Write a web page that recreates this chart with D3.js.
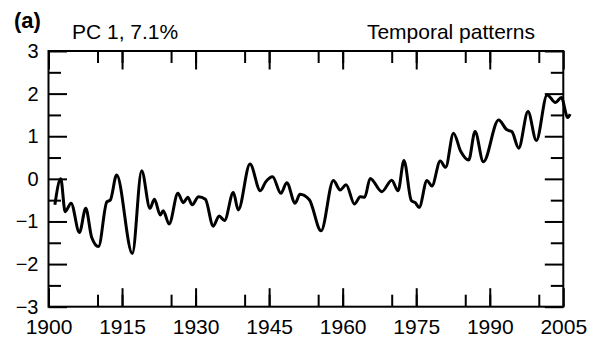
<!DOCTYPE html>
<html>
<head>
<meta charset="utf-8">
<style>
  body { margin: 0; background: #fff; }
  svg text { font-family: "Liberation Sans", Arial, Helvetica, sans-serif; fill: #000; }
  .axis .domain { display: none; }
  .axis .tick line { stroke: #000; stroke-width: 2px; }
</style>
</head>
<body>
<div class="chart"></div>
<script src="https://d3js.org/d3.v7.min.js"></script>
<script>
  // PC 1 时间序列（读图估计的转折点）
  const years = [1901.3, 1902.5, 1903.4, 1904.6, 1906.3, 1907.6, 1908.8, 1910.2, 1911.9, 1912.6,
    1913.9, 1917.1, 1919.0, 1920.7, 1921.6, 1922.8, 1923.4, 1924.6, 1926.4, 1927.5,
    1928.4, 1929.3, 1930.6, 1932.0, 1933.6, 1934.8, 1935.9, 1937.7, 1938.7, 1941.1,
    1943.2, 1944.3, 1945.7, 1947.4, 1948.6, 1950.3, 1951.3, 1953.2, 1955.6, 1958.1,
    1959.5, 1960.7, 1962.4, 1963.6, 1964.5, 1965.6, 1968.0, 1970.0, 1971.3, 1972.5,
    1974.0, 1974.8, 1975.6, 1977.2, 1978.2, 1979.9, 1981.0, 1982.6, 1984.1, 1985.7,
    1987.0, 1988.7, 1991.8, 1993.5, 1994.5, 1995.9, 1997.8, 1999.5, 2001.7, 2003.4,
    2004.6, 2005.9, 2006.4]
  const pc1 = [-0.61, 0.0, -0.77, -0.57, -1.26, -0.69, -1.37, -1.59, -0.54, -0.50,
    0.09, -1.75, 0.19, -0.69, -0.48, -0.85, -0.75, -1.06, -0.34, -0.56,
    -0.43, -0.61, -0.42, -0.48, -1.11, -0.87, -0.98, -0.32, -0.73, 0.35,
    -0.28, -0.07, 0.05, -0.34, -0.09, -0.57, -0.36, -0.49, -1.22, -0.04,
    -0.26, -0.14, -0.59, -0.42, -0.43, 0.01, -0.30, -0.03, -0.28, 0.43,
    -0.51, -0.56, -0.67, -0.04, -0.17, 0.42, 0.27, 1.07, 0.64, 0.44,
    1.11, 0.40, 1.38, 1.15, 1.11, 0.72, 1.58, 0.90, 1.97, 1.79,
    1.91, 1.44, 1.52]

  const xMinor = d3.range(1905, 2005, 5)
  const xMajor = d3.range(1900, 2006, 15)
  const yMinor = d3.range(-2.5, 3, 1)
  const yMajor = d3.range(-3, 4, 1)

  const svgWidth = 593, svgHeight = 353
  const plotLeft = 48.5, plotRight = 563.3, plotTop = 51, plotBottom = 306.7

  const svg = d3.select('.chart').append('svg')
    .attr('width', svgWidth)
    .attr('height', svgHeight)

  const x = d3.scaleLinear().domain([1900, 2005]).range([plotLeft, plotRight])
  const y = d3.scaleLinear().domain([-3, 3]).range([plotBottom, plotTop])

  // 下方、上方刻度（朝内）
  svg.append('g').attr('class', 'axis')
    .attr('transform', `translate(0, ${plotBottom})`)
    .call(d3.axisBottom(x).tickValues(xMinor.filter(d => d % 15 !== 0)).tickSize(-12).tickFormat(''))
  svg.append('g').attr('class', 'axis')
    .attr('transform', `translate(0, ${plotBottom})`)
    .call(d3.axisBottom(x).tickValues(xMajor).tickSize(-18.5).tickPadding(12).tickFormat(d3.format('d')))
    .selectAll('text').style('font-size', '21px')
  svg.append('g').attr('class', 'axis')
    .attr('transform', `translate(0, ${plotTop})`)
    .call(d3.axisTop(x).tickValues(xMinor.filter(d => d % 15 !== 0)).tickSize(-12).tickFormat(''))
  svg.append('g').attr('class', 'axis')
    .attr('transform', `translate(0, ${plotTop})`)
    .call(d3.axisTop(x).tickValues(xMajor).tickSize(-18.5).tickFormat(''))

  // 左、右刻度
  svg.append('g').attr('class', 'axis')
    .attr('transform', `translate(${plotLeft}, 0)`)
    .call(d3.axisLeft(y).tickValues(yMinor).tickSize(-12.5).tickFormat(''))
  svg.append('g').attr('class', 'axis')
    .attr('transform', `translate(${plotLeft}, 0)`)
    .call(d3.axisLeft(y).tickValues(yMajor).tickSize(-18.5).tickPadding(10).tickFormat(d3.format('d')))
    .selectAll('text').style('font-size', '20px')
  svg.append('g').attr('class', 'axis')
    .attr('transform', `translate(${plotRight}, 0)`)
    .call(d3.axisRight(y).tickValues(yMinor).tickSize(-12.5).tickFormat(''))
  svg.append('g').attr('class', 'axis')
    .attr('transform', `translate(${plotRight}, 0)`)
    .call(d3.axisRight(y).tickValues(yMajor).tickSize(-18.5).tickFormat(''))

  // 外框
  svg.append('rect')
    .attr('x', plotLeft).attr('y', plotTop)
    .attr('width', plotRight - plotLeft).attr('height', plotBottom - plotTop)
    .attr('fill', 'none').attr('stroke', '#000').attr('stroke-width', 2)

  // 折线
  const line = d3.line()
    .x((d, i) => x(years[i]))
    .y(d => y(d))
    .curve(d3.curveMonotoneX)
  svg.append('path')
    .attr('d', line(pc1))
    .attr('fill', 'none')
    .attr('stroke', '#000')
    .attr('stroke-width', 3)
    .attr('stroke-linejoin', 'round')

  // 标题文字
  svg.append('text').attr('x', 14).attr('y', 28)
    .style('font-size', '22px').style('font-weight', 'bold').text('(a)')
  svg.append('text').attr('x', 72).attr('y', 39)
    .style('font-size', '21px').text('PC 1, 7.1%')
  svg.append('text').attr('x', 535).attr('y', 39).attr('text-anchor', 'end')
    .style('font-size', '21px').text('Temporal patterns')
</script>
</body>
</html>
